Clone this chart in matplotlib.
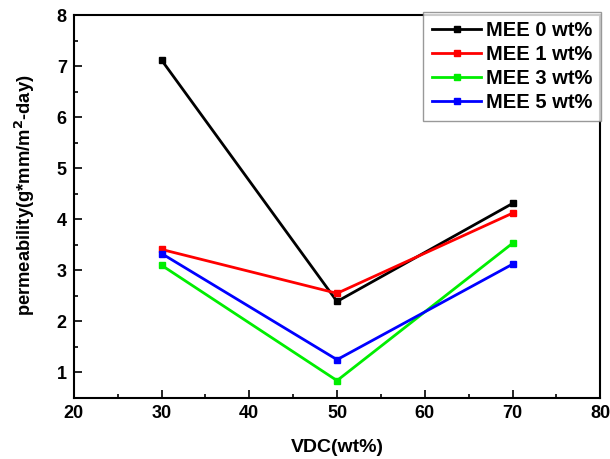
import matplotlib
matplotlib.use("Agg")
import matplotlib.pyplot as plt
from matplotlib.ticker import MultipleLocator

plt.rcParams['font.family'] = ['Liberation Sans', 'DejaVu Sans']
plt.rcParams['font.weight'] = 'bold'

vdc = [30, 50, 70]
mee0 = [7.12, 2.39, 4.31]
mee1 = [3.41, 2.55, 4.12]
mee3 = [3.10, 0.84, 3.53]
mee5 = [3.33, 1.25, 3.12]
labels = ["MEE 0 wt%", "MEE 1 wt%", "MEE 3 wt%", "MEE 5 wt%"]
colors = ["black", "#ff0000", "#00ee00", "#0000ff"]

fig = plt.figure(figsize=(6.1, 4.59), dpi=100)
ax = fig.add_axes([0.121, 0.133, 0.863, 0.834])

for ys, lab, c in zip([mee0, mee1, mee3, mee5], labels, colors):
    ax.plot(vdc, ys, color=c, lw=2, marker='s', ms=5, label=lab)

ax.set_xlim(20, 80)
ax.set_ylim(0.5, 8)
ax.xaxis.set_major_locator(MultipleLocator(10))
ax.xaxis.set_minor_locator(MultipleLocator(5))
ax.yaxis.set_minor_locator(MultipleLocator(0.5))
ax.set_yticks([1, 2, 3, 4, 5, 6, 7, 8])
ax.tick_params(which='both', direction='in', top=False, right=False, labelsize=13, width=1.2)
ax.tick_params(which='major', length=6, pad=5)
ax.tick_params(which='minor', length=3)
for s in ax.spines.values():
    s.set_linewidth(1.5)
for t in ax.get_xticklabels() + ax.get_yticklabels():
    t.set_fontweight('bold')

ax.set_xlabel("VDC(wt%)", fontsize=14, fontweight='bold', labelpad=12)
ax.set_ylabel("permeability(g*mm/m$^{\\mathbf{2}}$-day)", fontsize=13.2, fontweight='bold')
ax.yaxis.set_label_coords(-0.07, 0.53)

leg = ax.legend(loc='upper right', bbox_to_anchor=(1.002, 1.008), borderaxespad=0, frameon=True,
                fancybox=False, edgecolor='gray', handlelength=2.4, borderpad=0.45,
                labelspacing=0.24, handletextpad=0.25, prop={'weight': 'bold', 'size': 14.5})
leg.get_frame().set_linewidth(1.0)

fig.savefig("out.png", dpi=100)
